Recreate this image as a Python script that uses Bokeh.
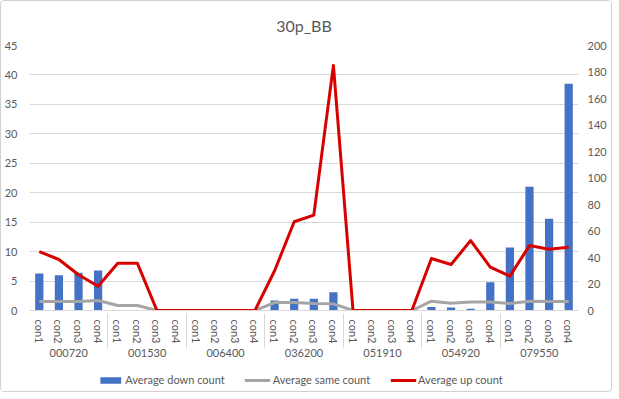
from bokeh.plotting import figure
from bokeh.models import (FactorRange, Range1d, LinearAxis, Legend, LegendItem,
                          ColumnDataSource, FixedTicker)
from bokeh.layouts import column
from bokeh.embed import file_html
from bokeh.resources import INLINE

groups = ["000720", "001530", "006400", "036200", "051910", "054920", "079550"]
conds = ["con1", "con2", "con3", "con4"]

down_count = [6.3, 6.0, 6.4, 6.8,
              0, 0, 0, 0,
              0, 0, 0, 0,
              1.7, 2.0, 2.0, 3.1,
              0, 0, 0, 0,
              0.6, 0.5, 0.3, 4.8,
              10.7, 21.0, 15.6, 38.5]
same_count = [6.8, 6.8, 6.8, 7.5,
              3.8, 3.8, 0, 0,
              0, 0, 0, 0,
              6.0, 6.0, 5.3, 5.0,
              0, 0, 0, 0,
              7.0, 5.5, 6.5, 6.5,
              5.3, 7.0, 6.8, 6.8]
up_count = [44.5, 38.5, 27.0, 18.3,
            35.7, 35.7, 0, 0,
            0, 0, 0, 0,
            30.0, 67.0, 72.0, 185.0,
            0, 0, 0, 0,
            39.2, 34.7, 52.8, 32.7,
            25.9, 49.0, 46.3, 47.8]
left_ticks = [0, 5, 10, 15, 20, 25, 30, 35, 40, 45]
right_ticks = [0, 20, 40, 60, 80, 100, 120, 140, 160, 180, 200]

factors = [(g, c) for g in groups for c in conds]
src = ColumnDataSource(dict(x=factors, down=down_count, same=same_count, up=up_count))

FONT = "Lato"
TXT = "#595959"
BLUE, GRAY, RED = "#4472C4", "#A5A5A5", "#D90000"

xr = FactorRange(*factors, group_padding=0, factor_padding=0, range_padding=0)

p = figure(x_range=xr, y_range=Range1d(0, 45),
           frame_width=549, frame_height=265,
           min_border_left=21, min_border_right=33, min_border_top=44, min_border_bottom=58,
           output_backend="svg", toolbar_location=None, title="30p_BB")
p.extra_y_ranges = {"right": Range1d(0, 200)}

p.title.align = "center"
p.title.text_font = FONT
p.title.text_font_size = "16px"
p.title.text_font_style = "normal"
p.title.text_color = TXT
p.title.standoff = 21

p.outline_line_color = None
p.xgrid.grid_line_color = None
p.ygrid.grid_line_color = "#d9d9d9"
p.ygrid.ticker = FixedTicker(ticks=left_ticks)

p.vbar(x="x", top="down", width=0.42, source=src, fill_color=BLUE, line_color=None)
p.line(x="x", y="same", source=src, line_color=GRAY, line_width=3,
       y_range_name="right", line_join="round")
p.line(x="x", y="up", source=src, line_color=RED, line_width=3,
       y_range_name="right", line_join="round")

ly = p.yaxis[0]
ly.ticker = FixedTicker(ticks=left_ticks)
ry = LinearAxis(y_range_name="right", ticker=FixedTicker(ticks=right_ticks))
p.add_layout(ry, "right")
for ax in (ly, ry):
    ax.axis_line_color = None
    ax.major_tick_line_color = None
    ax.minor_tick_line_color = None
    ax.major_label_text_font = FONT
    ax.major_label_text_font_size = "11px"
    ax.major_label_text_color = TXT
ly.major_label_standoff = 6
ry.major_label_standoff = 3

xa = p.xaxis[0]
xa.axis_line_color = "#d9d9d9"
xa.major_tick_line_color = None
xa.minor_tick_line_color = None
xa.major_label_orientation = "vertical"
xa.major_label_text_font = FONT
xa.major_label_text_font_size = "11px"
xa.major_label_text_color = TXT
xa.major_label_standoff = 3
xa.group_text_font = FONT
xa.group_text_font_size = "11px"
xa.group_text_color = TXT
xa.group_text_font_style = "normal"
xa.separator_line_color = "#d9d9d9"
xa.separator_line_width = 1

# legend strip below the chart (same series, drawn out of its visible range)
q = figure(x_range=xr, y_range=Range1d(1000, 1001), width=603, height=23,
           x_axis_type=None, y_axis_type=None, min_border=0,
           output_backend="svg", toolbar_location=None)
q.outline_line_color = None
q.grid.visible = False
lb = q.vbar(x="x", top="down", width=0.42, source=src, fill_color=BLUE, line_color=None)
ls = q.line(x="x", y="same", source=src, line_color=GRAY, line_width=3)
lu = q.line(x="x", y="up", source=src, line_color=RED, line_width=3)

legend = Legend(items=[LegendItem(label="Average down count", renderers=[lb]),
                       LegendItem(label="Average same count", renderers=[ls]),
                       LegendItem(label="Average up count", renderers=[lu])],
                orientation="horizontal", location="center")
legend.border_line_color = None
legend.background_fill_alpha = 0
legend.label_text_font = FONT
legend.label_text_font_size = "11px"
legend.label_text_color = TXT
legend.glyph_width = 26
legend.glyph_height = 8
legend.label_height = 14
legend.label_standoff = 2
legend.spacing = 20
legend.padding = 2
legend.margin = 0
q.add_layout(legend, "center")

layout = column(p, q, spacing=0)
layout.styles = {"border": "1px solid #d0d0d0", "border-radius": "4px"}

open("out.html", "w").write(file_html(layout, INLINE))
